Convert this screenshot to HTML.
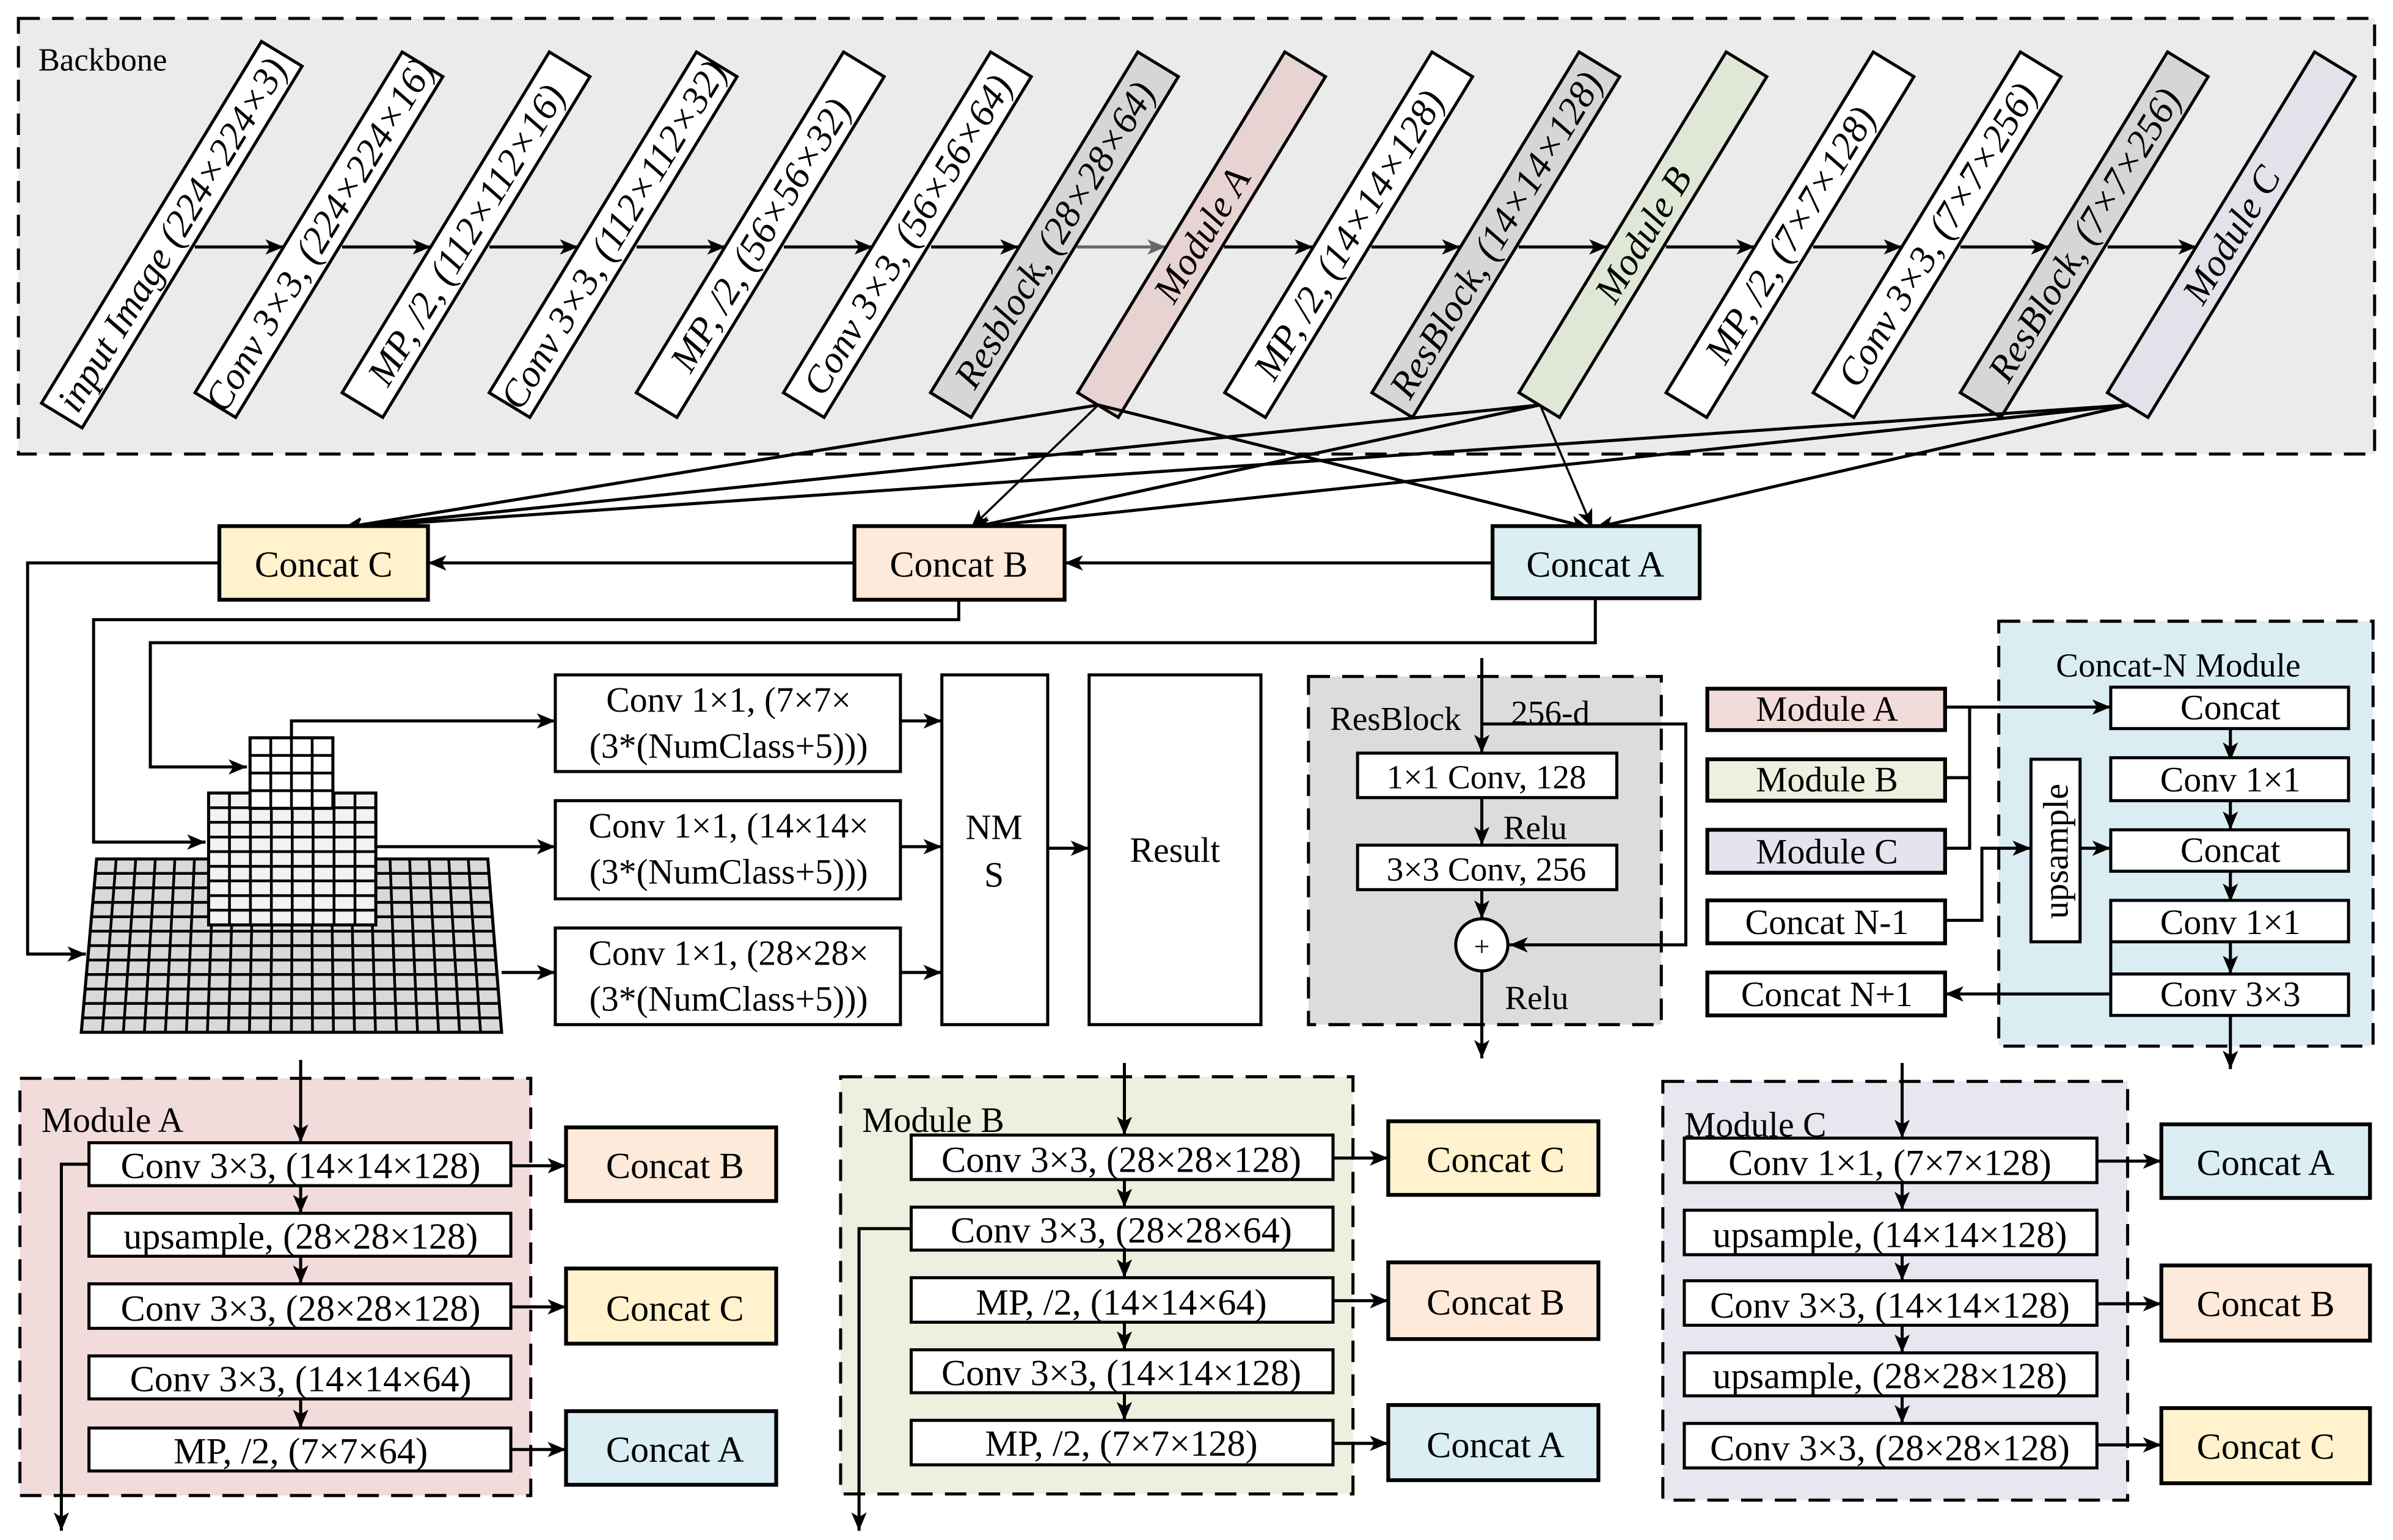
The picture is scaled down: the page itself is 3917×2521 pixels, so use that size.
<!DOCTYPE html>
<html><head><meta charset="utf-8"><style>
html,body{margin:0;padding:0;background:#fff}
svg{display:block}
text{font-family:"Liberation Serif",serif;fill:#000}
</style></head><body>
<svg width="3917" height="2521" viewBox="0 0 1560 1004" preserveAspectRatio="none" xmlns="http://www.w3.org/2000/svg">
<defs>
<marker id="a" viewBox="0 0 12 10" markerWidth="12" markerHeight="10" markerUnits="userSpaceOnUse" refX="12" refY="5" orient="auto"><path d="M0,0 L12,5 L0,10 L3,5 z" fill="#000"/></marker>
<marker id="g" viewBox="0 0 12 10" markerWidth="12" markerHeight="10" markerUnits="userSpaceOnUse" refX="12" refY="5" orient="auto"><path d="M0,0 L12,5 L0,10 L3,5 z" fill="#666"/></marker>
</defs>
<rect width="1560" height="1004" fill="#fff"/>

<!-- Backbone -->
<rect x="12" y="12" width="1536" height="284" fill="#ebebeb" stroke="#000" stroke-width="2" stroke-dasharray="14 8"/>
<text x="25" y="46" font-size="21">Backbone</text>

<g stroke="#000" stroke-width="2" fill="none" marker-end="url(#a)">
<line x1="127" y1="161" x2="185" y2="161"/>
<line x1="223" y1="161" x2="281" y2="161"/>
<line x1="319" y1="161" x2="377" y2="161"/>
<line x1="415" y1="161" x2="473" y2="161"/>
<line x1="511" y1="161" x2="569" y2="161"/>
<line x1="607" y1="161" x2="664" y2="161"/>
<line x1="798" y1="161" x2="856" y2="161"/>
<line x1="894" y1="161" x2="952" y2="161"/>
<line x1="990" y1="161" x2="1048" y2="161"/>
<line x1="1086" y1="161" x2="1144" y2="161"/>
<line x1="1182" y1="161" x2="1240" y2="161"/>
<line x1="1278" y1="161" x2="1336" y2="161"/>
<line x1="1374" y1="161" x2="1432" y2="161"/>
</g>
<line x1="702" y1="161" x2="760" y2="161" stroke="#666" stroke-width="2" marker-end="url(#g)"/>

<g font-size="25" font-style="italic" text-anchor="middle" stroke-width="2" stroke="#000">
<g transform="translate(112,153) rotate(-58.7)"><rect x="-138" y="-15.5" width="276" height="31" fill="#fff"/><text dy="8.5" stroke="none">input Image (224×224×3)</text></g>
<g transform="translate(207.9,153) rotate(-58.7)"><rect x="-130" y="-15.5" width="260" height="31" fill="#fff"/><text dy="8.5" stroke="none">Conv 3×3, (224×224×16)</text></g>
<g transform="translate(303.8,153) rotate(-58.7)"><rect x="-130" y="-15.5" width="260" height="31" fill="#fff"/><text dy="8.5" stroke="none">MP, /2, (112×112×16)</text></g>
<g transform="translate(399.7,153) rotate(-58.7)"><rect x="-130" y="-15.5" width="260" height="31" fill="#fff"/><text dy="8.5" stroke="none">Conv 3×3, (112×112×32)</text></g>
<g transform="translate(495.6,153) rotate(-58.7)"><rect x="-130" y="-15.5" width="260" height="31" fill="#fff"/><text dy="8.5" stroke="none">MP, /2, (56×56×32)</text></g>
<g transform="translate(591.5,153) rotate(-58.7)"><rect x="-130" y="-15.5" width="260" height="31" fill="#fff"/><text dy="8.5" stroke="none">Conv 3×3, (56×56×64)</text></g>
<g transform="translate(687.4,153) rotate(-58.7)"><rect x="-130" y="-15.5" width="260" height="31" fill="#d6d6d6"/><text dy="8.5" stroke="none">Resblock, (28×28×64)</text></g>
<g transform="translate(783.3,153) rotate(-58.7)"><rect x="-130" y="-15.5" width="260" height="31" fill="#e8d3d3"/><text dy="8.5" stroke="none">Module A</text></g>
<g transform="translate(879.2,153) rotate(-58.7)"><rect x="-130" y="-15.5" width="260" height="31" fill="#fff"/><text dy="8.5" stroke="none">MP, /2, (14×14×128)</text></g>
<g transform="translate(975.1,153) rotate(-58.7)"><rect x="-130" y="-15.5" width="260" height="31" fill="#d6d6d6"/><text dy="8.5" stroke="none">ResBlock, (14×14×128)</text></g>
<g transform="translate(1071,153) rotate(-58.7)"><rect x="-130" y="-15.5" width="260" height="31" fill="#e0e7d6"/><text dy="8.5" stroke="none">Module B</text></g>
<g transform="translate(1166.9,153) rotate(-58.7)"><rect x="-130" y="-15.5" width="260" height="31" fill="#fff"/><text dy="8.5" stroke="none">MP, /2, (7×7×128)</text></g>
<g transform="translate(1262.8,153) rotate(-58.7)"><rect x="-130" y="-15.5" width="260" height="31" fill="#fff"/><text dy="8.5" stroke="none">Conv 3×3, (7×7×256)</text></g>
<g transform="translate(1358.7,153) rotate(-58.7)"><rect x="-130" y="-15.5" width="260" height="31" fill="#d6d6d6"/><text dy="8.5" stroke="none">ResBlock, (7×7×256)</text></g>
<g transform="translate(1454.6,153) rotate(-58.7)"><rect x="-130" y="-15.5" width="260" height="31" fill="#e4e1ea"/><text dy="8.5" stroke="none">Module C</text></g>
</g>

<!-- module -> concat connectors -->
<g stroke="#000" stroke-width="2" fill="none" marker-end="url(#a)">
<line x1="716" y1="264" x2="224" y2="344"/>
<line x1="716" y1="264" x2="633" y2="344" stroke-width="1.4"/>
<line x1="716" y1="264" x2="1036" y2="344"/>
<line x1="1004" y1="264" x2="224" y2="344"/>
<line x1="1004" y1="264" x2="633" y2="344"/>
<line x1="1004" y1="264" x2="1038" y2="344" stroke-width="1.4"/>
<line x1="1388" y1="264" x2="224" y2="344"/>
<line x1="1388" y1="264" x2="633" y2="344"/>
<line x1="1388" y1="264" x2="1040" y2="344"/>
</g>

<!-- Concat boxes -->
<g stroke="#000" stroke-width="2.5">
<rect x="143" y="343" width="136" height="48" fill="#fff2cc"/>
<rect x="557" y="343" width="137" height="48" fill="#fdeada"/>
<rect x="973" y="343" width="135" height="47" fill="#daeef3"/>
</g>
<g font-size="24" text-anchor="middle">
<text x="211" y="376">Concat C</text>
<text x="625" y="376">Concat B</text>
<text x="1040" y="376">Concat A</text>
</g>
<g stroke="#000" stroke-width="2" fill="none">
<line x1="973" y1="367" x2="694" y2="367" marker-end="url(#a)"/>
<line x1="557" y1="367" x2="279" y2="367" marker-end="url(#a)"/>
<polyline points="143,367 18,367 18,622 56,622" marker-end="url(#a)"/>
<polyline points="625,391 625,404 61,404 61,549 134,549" marker-end="url(#a)"/>
<polyline points="1040,390 1040,419 98,419 98,500 161,500" marker-end="url(#a)"/>
</g>

<!-- pyramid -->
<polygon points="63,560 318,560 327,673 53,673" fill="#d9d9d9" stroke="#000" stroke-width="2"/>
<path stroke="#000" stroke-width="1.8" fill="none" d="M75.75,560L66.7,673M88.5,560L80.4,673M101.25,560L94.1,673M114,560L107.8,673M126.75,560L121.5,673M139.5,560L135.2,673M152.25,560L148.9,673M165,560L162.6,673M177.75,560L176.3,673M190.5,560L190,673M203.25,560L203.7,673M216,560L217.4,673M228.75,560L231.1,673M241.5,560L244.8,673M254.25,560L258.5,673M267,560L272.2,673M279.75,560L285.9,673M292.5,560L299.6,673M305.25,560L313.3,673
M62.2,569.4H318.75M61.3,578.8H319.5M60.5,588.3H320.25M59.7,597.7H321M58.8,607.1H321.75M58,616.5H322.5M57.2,625.9H323.25M56.3,635.3H324M55.5,644.8H324.75M54.7,654.2H325.5M53.8,663.6H326.25"/>
<rect x="136" y="517" width="109" height="86" fill="#f2f2f2" stroke="#000" stroke-width="2"/>
<path stroke="#000" stroke-width="1.8" d="M149.6,517V603M163.25,517V603M176.9,517V603M190.5,517V603M204.1,517V603M217.75,517V603M231.4,517V603M136,526.6H245M136,536.1H245M136,545.7H245M136,555.2H245M136,564.8H245M136,574.3H245M136,583.9H245M136,593.4H245"/>
<rect x="163" y="481" width="54" height="46" fill="#fff" stroke="#000" stroke-width="2"/>
<path stroke="#000" stroke-width="1.8" d="M176.5,481V527M190,481V527M203.5,481V527M163,492.5H217M163,504H217M163,515.5H217"/>
<g stroke="#000" stroke-width="2" fill="none" marker-end="url(#a)">
<polyline points="190,481 190,470 362,470"/>
<line x1="245" y1="552" x2="362" y2="552"/>
<line x1="327" y1="634" x2="362" y2="634"/>
<line x1="587" y1="470" x2="614" y2="470"/>
<line x1="587" y1="552" x2="614" y2="552"/>
<line x1="587" y1="634" x2="614" y2="634"/>
<line x1="683" y1="553" x2="710" y2="553"/>
</g>
<g stroke="#000" stroke-width="2" fill="#fff">
<rect x="362" y="440" width="225" height="63"/>
<rect x="362" y="522" width="225" height="64"/>
<rect x="362" y="605" width="225" height="63"/>
<rect x="614" y="440" width="69" height="228"/>
<rect x="710" y="440" width="112" height="228"/>
</g>
<g font-size="23" text-anchor="middle">
<text x="475" y="464">Conv 1×1, (7×7×</text><text x="475" y="494">(3*(NumClass+5)))</text>
<text x="475" y="546">Conv 1×1, (14×14×</text><text x="475" y="576">(3*(NumClass+5)))</text>
<text x="475" y="629">Conv 1×1, (28×28×</text><text x="475" y="659">(3*(NumClass+5)))</text>
<text x="648" y="547">NM</text><text x="648" y="578">S</text>
<text x="766" y="562">Result</text>
</g>

<!-- ResBlock -->
<rect x="853" y="441" width="230" height="227" fill="#dcdcdc" stroke="#000" stroke-width="2" stroke-dasharray="14 8"/>
<text x="867" y="476" font-size="22">ResBlock</text>
<text x="985" y="472" font-size="22">256-d</text>
<g stroke="#000" stroke-width="2" fill="none">
<line x1="966" y1="429" x2="966" y2="491" marker-end="url(#a)"/>
<line x1="966" y1="520" x2="966" y2="551" marker-end="url(#a)"/>
<line x1="966" y1="580" x2="966" y2="599" marker-end="url(#a)"/>
<polyline points="966,472 1099,472 1099,616 984,616" marker-end="url(#a)"/>
<line x1="966" y1="633" x2="966" y2="690" marker-end="url(#a)"/>
</g>
<rect x="885" y="491" width="169" height="29" fill="#fff" stroke="#000" stroke-width="2"/>
<rect x="885" y="551" width="169" height="29" fill="#fff" stroke="#000" stroke-width="2"/>
<ellipse cx="966" cy="616" rx="17" ry="17" fill="#fff" stroke="#000" stroke-width="2"/>
<g font-size="22" text-anchor="middle">
<text x="969" y="514">1×1 Conv, 128</text>
<text x="969" y="574">3×3 Conv, 256</text>
<text x="966" y="623" font-size="18">+</text>
</g>
<text x="980" y="547" font-size="22">Relu</text>
<text x="981" y="658" font-size="22">Relu</text>

<!-- Concat-N Module -->
<rect x="1303" y="405" width="244" height="277" fill="#daedf3" stroke="#000" stroke-width="2" stroke-dasharray="14 8"/>
<text x="1420" y="441" font-size="22" text-anchor="middle">Concat-N Module</text>
<g stroke="#000" stroke-width="2" fill="none">
<line x1="1268" y1="461" x2="1376" y2="461" marker-end="url(#a)"/>
<polyline points="1284,461 1284,553 1268,553"/>
<line x1="1268" y1="507" x2="1284" y2="507"/>
<polyline points="1268,600 1292,600 1292,553 1324,553" marker-end="url(#a)"/>
<line x1="1356" y1="553" x2="1376" y2="553" marker-end="url(#a)"/>
<line x1="1454" y1="475" x2="1454" y2="496" marker-end="url(#a)"/>
<line x1="1454" y1="522" x2="1454" y2="541" marker-end="url(#a)"/>
<line x1="1454" y1="568" x2="1454" y2="588" marker-end="url(#a)"/>
<line x1="1454" y1="614" x2="1454" y2="635" marker-end="url(#a)"/>
<line x1="1376" y1="614" x2="1376" y2="648"/>
<line x1="1376" y1="648" x2="1268" y2="648" marker-end="url(#a)"/>
<line x1="1454" y1="662" x2="1454" y2="697" marker-end="url(#a)"/>
</g>
<g stroke="#000" stroke-width="2.5">
<rect x="1113" y="449" width="155" height="27" fill="#f2dcdb"/>
<rect x="1113" y="495" width="155" height="27" fill="#ebf1de"/>
<rect x="1113" y="541" width="155" height="28" fill="#e6e3ee"/>
<rect x="1113" y="587" width="155" height="28" fill="#fff"/>
<rect x="1113" y="634" width="155" height="28" fill="#fff"/>
</g>
<g stroke="#000" stroke-width="2" fill="#fff">
<rect x="1376" y="448" width="155" height="27"/>
<rect x="1376" y="494" width="155" height="28"/>
<rect x="1376" y="541" width="155" height="27"/>
<rect x="1376" y="587" width="155" height="27"/>
<rect x="1376" y="635" width="155" height="27"/>
<rect x="1324" y="495" width="32" height="119"/>
</g>
<g font-size="23" text-anchor="middle">
<text x="1191" y="470">Module A</text>
<text x="1191" y="516">Module B</text>
<text x="1191" y="563">Module C</text>
<text x="1191" y="609">Concat N-1</text>
<text x="1191" y="656">Concat N+1</text>
<text x="1454" y="469">Concat</text>
<text x="1454" y="516">Conv 1×1</text>
<text x="1454" y="562">Concat</text>
<text x="1454" y="609">Conv 1×1</text>
<text x="1454" y="656">Conv 3×3</text>
<text transform="translate(1348,555) rotate(-90)" font-size="23">upsample</text>
</g>

<!-- Module A detail -->
<rect x="13" y="703" width="333" height="272" fill="#f2dcdb" stroke="#000" stroke-width="2" stroke-dasharray="14 8"/>
<text x="27" y="738" font-size="23">Module A</text>
<g stroke="#000" stroke-width="2" fill="none" marker-end="url(#a)">
<line x1="196" y1="691" x2="196" y2="745"/>
<line x1="196" y1="773" x2="196" y2="791"/>
<line x1="196" y1="819" x2="196" y2="837"/>
<line x1="196" y1="912" x2="196" y2="931"/>
<polyline points="58,759 40,759 40,998"/>
<line x1="333" y1="760" x2="369" y2="760"/>
<line x1="333" y1="852" x2="369" y2="852"/>
<line x1="333" y1="945" x2="369" y2="945"/>
</g>
<g stroke="#000" stroke-width="2" fill="#fff">
<rect x="58" y="745" width="275" height="28"/>
<rect x="58" y="791" width="275" height="28"/>
<rect x="58" y="837" width="275" height="29"/>
<rect x="58" y="884" width="275" height="28"/>
<rect x="58" y="931" width="275" height="28"/>
</g>
<g stroke="#000" stroke-width="2.5">
<rect x="369" y="735" width="137" height="48" fill="#fdeada"/>
<rect x="369" y="827" width="137" height="49" fill="#fff2cc"/>
<rect x="369" y="920" width="137" height="48" fill="#daeef3"/>
</g>
<g font-size="24" text-anchor="middle">
<text x="196" y="768">Conv 3×3, (14×14×128)</text>
<text x="196" y="814">upsample, (28×28×128)</text>
<text x="196" y="861">Conv 3×3, (28×28×128)</text>
<text x="196" y="907">Conv 3×3, (14×14×64)</text>
<text x="196" y="954">MP, /2, (7×7×64)</text>
<text x="440" y="768" font-size="24">Concat B</text>
<text x="440" y="861" font-size="24">Concat C</text>
<text x="440" y="953" font-size="24">Concat A</text>
</g>

<!-- Module B detail -->
<rect x="548" y="702" width="334" height="272" fill="#ebf1de" stroke="#000" stroke-width="2" stroke-dasharray="14 8"/>
<text x="562" y="738" font-size="23">Module B</text>
<g stroke="#000" stroke-width="2" fill="none" marker-end="url(#a)">
<line x1="733" y1="693" x2="733" y2="740"/>
<line x1="733" y1="769" x2="733" y2="787"/>
<line x1="733" y1="815" x2="733" y2="833"/>
<line x1="733" y1="862" x2="733" y2="880"/>
<line x1="733" y1="908" x2="733" y2="926"/>
<polyline points="594,801 560,801 560,998"/>
<line x1="869" y1="755" x2="905" y2="755"/>
<line x1="869" y1="848" x2="905" y2="848"/>
<line x1="869" y1="941" x2="905" y2="941"/>
</g>
<g stroke="#000" stroke-width="2" fill="#fff">
<rect x="594" y="740" width="275" height="29"/>
<rect x="594" y="787" width="275" height="28"/>
<rect x="594" y="833" width="275" height="29"/>
<rect x="594" y="880" width="275" height="28"/>
<rect x="594" y="926" width="275" height="29"/>
</g>
<g stroke="#000" stroke-width="2.5">
<rect x="905" y="731" width="137" height="48" fill="#fff2cc"/>
<rect x="905" y="823" width="137" height="50" fill="#fdeada"/>
<rect x="905" y="916" width="137" height="49" fill="#daeef3"/>
</g>
<g font-size="24" text-anchor="middle">
<text x="731" y="764">Conv 3×3, (28×28×128)</text>
<text x="731" y="810">Conv 3×3, (28×28×64)</text>
<text x="731" y="857">MP, /2, (14×14×64)</text>
<text x="731" y="903">Conv 3×3, (14×14×128)</text>
<text x="731" y="949">MP, /2, (7×7×128)</text>
<text x="975" y="764">Concat C</text>
<text x="975" y="857">Concat B</text>
<text x="975" y="950">Concat A</text>
</g>

<!-- Module C detail -->
<rect x="1084" y="705" width="303" height="273" fill="#e9e6ef" stroke="#000" stroke-width="2" stroke-dasharray="14 8"/>
<text x="1098" y="741" font-size="23">Module C</text>
<g stroke="#000" stroke-width="2" fill="none" marker-end="url(#a)">
<line x1="1240" y1="693" x2="1240" y2="742"/>
<line x1="1240" y1="771" x2="1240" y2="789"/>
<line x1="1240" y1="818" x2="1240" y2="835"/>
<line x1="1240" y1="864" x2="1240" y2="882"/>
<line x1="1240" y1="910" x2="1240" y2="928"/>
<line x1="1367" y1="757" x2="1409" y2="757"/>
<line x1="1367" y1="850" x2="1409" y2="850"/>
<line x1="1367" y1="942" x2="1409" y2="942"/>
</g>
<g stroke="#000" stroke-width="2" fill="#fff">
<rect x="1098" y="742" width="269" height="29"/>
<rect x="1098" y="789" width="269" height="29"/>
<rect x="1098" y="835" width="269" height="29"/>
<rect x="1098" y="882" width="269" height="28"/>
<rect x="1098" y="928" width="269" height="29"/>
</g>
<g stroke="#000" stroke-width="2.5">
<rect x="1409" y="733" width="136" height="48" fill="#daeef3"/>
<rect x="1409" y="825" width="136" height="49" fill="#fdeada"/>
<rect x="1409" y="918" width="136" height="49" fill="#fff2cc"/>
</g>
<g font-size="24" text-anchor="middle">
<text x="1232" y="766">Conv 1×1, (7×7×128)</text>
<text x="1232" y="813">upsample, (14×14×128)</text>
<text x="1232" y="859">Conv 3×3, (14×14×128)</text>
<text x="1232" y="905">upsample, (28×28×128)</text>
<text x="1232" y="952">Conv 3×3, (28×28×128)</text>
<text x="1477" y="766">Concat A</text>
<text x="1477" y="858">Concat B</text>
<text x="1477" y="951">Concat C</text>
</g>
</svg>
</body></html>
